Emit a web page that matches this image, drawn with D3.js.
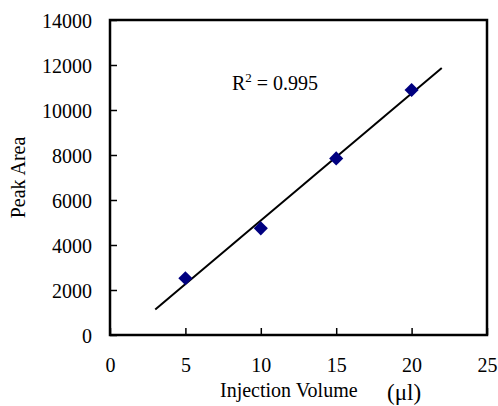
<!doctype HTML>
<html>
<head>
    <style>
        body { margin: 0; background: white; }
        text { font-family: "Liberation Serif", "Times New Roman", serif; fill: black; }
    </style>
    <script src="https://d3js.org/d3.v7.min.js"></script>
</head>
<body>
<script>
    // data
    var volumes = [5, 10, 15, 20];
    var peakAreas = [2520, 4740, 7850, 10890];
    var xTicks = [0, 5, 10, 15, 20, 25];
    var yTicks = [0, 2000, 4000, 6000, 8000, 10000, 12000, 14000];
    var trendRange = [3, 22];
    var rSquaredLabel = "0.995";

    var canvasWidth = 498;
    var canvasHeight = 406;
    var plotLeft = 110, plotRight = 487, plotTop = 20, plotBottom = 335;

    var svg = d3.select("body").append("svg")
        .attr("width", canvasWidth)
        .attr("height", canvasHeight);

    var xScale = d3.scaleLinear().domain([0, 25]).range([plotLeft, plotRight]);
    var yScale = d3.scaleLinear().domain([0, 14000]).range([plotBottom, plotTop]);

    // linear fit of the points for the trend line
    var mx = d3.mean(volumes), my = d3.mean(peakAreas);
    var sxy = d3.sum(volumes, function(v, i) { return (v - mx) * (peakAreas[i] - my); });
    var sxx = d3.sum(volumes, function(v) { return (v - mx) * (v - mx); });
    var slope = sxy / sxx;
    var intercept = my - slope * mx;

    // axes, ticks pointing inward
    var yAxis = svg.append("g")
        .attr("transform", "translate(" + plotLeft + ",0)")
        .call(d3.axisLeft(yScale).tickValues(yTicks).tickFormat(d3.format("d")).tickSizeInner(-7).tickSizeOuter(0).tickPadding(18));
    var xAxis = svg.append("g")
        .attr("transform", "translate(0," + plotBottom + ")")
        .call(d3.axisBottom(xScale).tickValues(xTicks).tickFormat(d3.format("d")).tickSizeInner(-7).tickSizeOuter(0).tickPadding(23));

    [yAxis, xAxis].forEach(function(ax) {
        ax.select(".domain").remove();
        ax.selectAll(".tick line").attr("stroke", "black").attr("stroke-width", 1.5);
        ax.selectAll(".tick text")
            .attr("font-family", "Liberation Serif, Times New Roman, serif")
            .attr("font-size", "20px")
            .attr("fill", "black");
    });
    yAxis.selectAll(".tick text").attr("dy", "0.35em");

    // plot frame
    svg.append("rect")
        .attr("x", plotLeft)
        .attr("y", plotTop)
        .attr("width", plotRight - plotLeft)
        .attr("height", plotBottom - plotTop)
        .attr("fill", "none")
        .attr("stroke", "black")
        .attr("stroke-width", 2.5);

    // trend line
    svg.append("line")
        .attr("x1", xScale(trendRange[0]))
        .attr("y1", yScale(slope * trendRange[0] + intercept))
        .attr("x2", xScale(trendRange[1]))
        .attr("y2", yScale(slope * trendRange[1] + intercept))
        .attr("stroke", "black")
        .attr("stroke-width", 2);

    // diamond markers
    svg.selectAll(".pt")
        .data(volumes)
        .enter().append("path")
        .attr("class", "pt")
        .attr("d", d3.symbol(d3.symbolSquare, 100))
        .attr("transform", function(d, i) {
            return "translate(" + xScale(d) + "," + yScale(peakAreas[i]) + ") rotate(45)";
        })
        .attr("fill", "#000080");

    // R squared label
    var r2 = svg.append("text")
        .attr("x", 232)
        .attr("y", 90)
        .attr("font-size", "20px");
    r2.append("tspan").text("R");
    r2.append("tspan").attr("font-size", "13px").attr("dy", -8).text("2");
    r2.append("tspan").attr("dy", 8).text(" = " + rSquaredLabel);

    // axis titles
    svg.append("text")
        .attr("x", 220)
        .attr("y", 397)
        .attr("font-size", "20px")
        .text("Injection Volume");

    svg.append("text")
        .attr("x", 387)
        .attr("y", 400)
        .attr("font-size", "23px")
        .text("(\u03bcl)");

    svg.append("text")
        .attr("transform", "translate(25," + ((plotTop + plotBottom) / 2) + ") rotate(-90)")
        .attr("text-anchor", "middle")
        .attr("font-size", "20px")
        .text("Peak Area");
</script>
</body>
</html>
